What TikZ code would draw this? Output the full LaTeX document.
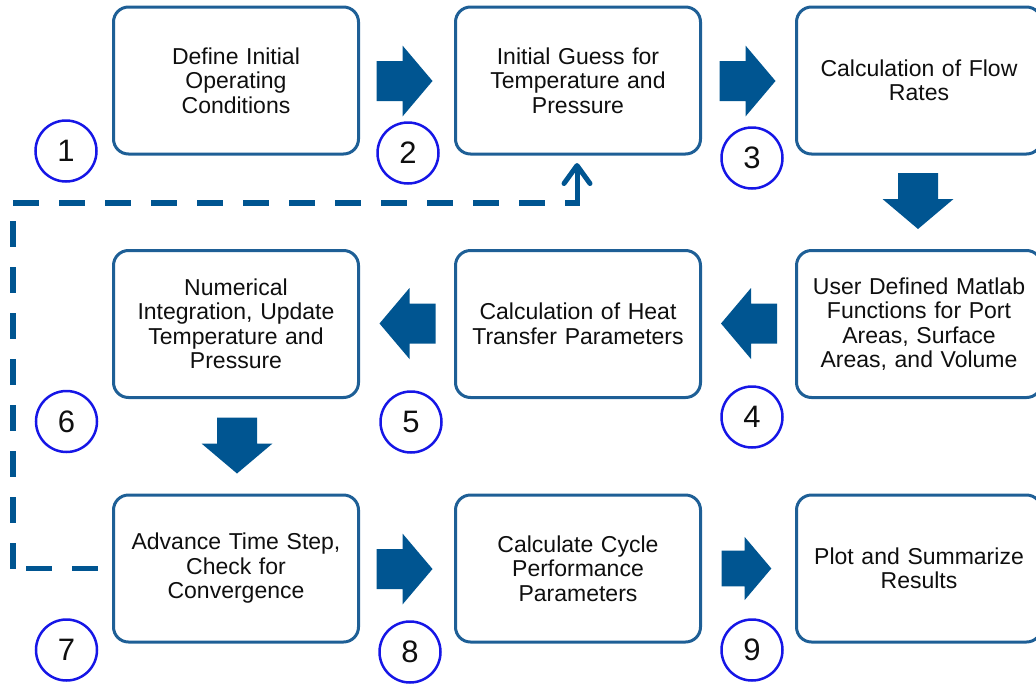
\documentclass[tikz,border=0pt]{standalone}
\usepackage{fontspec}
\setmainfont{Liberation Sans}
\usetikzlibrary{arrows.meta,calc}
\definecolor{boxblue}{RGB}{30,95,150}
\definecolor{arrowblue}{RGB}{0,85,145}
\definecolor{circblue}{RGB}{22,22,230}
\definecolor{txt}{RGB}{15,15,15}
\tikzset{
  stepbox/.style={draw=boxblue,line width=3pt,rounded corners=15pt,fill=white,
    minimum width=245pt,minimum height=147pt,outer sep=0pt,inner sep=0pt,
    text width=236pt,align=center,text=txt,
    font=\fontsize{23}{24.5}\selectfont},
  numcirc/.style={circle,draw=circblue,line width=2.5pt,minimum size=61pt,
    inner sep=0pt,text=txt,font=\fontsize{31}{31}\selectfont},
  barrow/.pic={
    \fill[arrowblue] (0,-20) -- (26,-20) -- (26,-35.5) -- (56,0) -- (26,35.5) -- (26,20) -- (0,20) -- cycle;
  },
  fbline/.style={draw=arrowblue,line width=5.5pt,dash pattern=on 26pt off 20pt},
}
\begin{document}
\begin{tikzpicture}[x=1pt,y=-1pt]
\useasboundingbox (0,0) rectangle (1036,683);
% boxes
\node[stepbox] (b1) at (236,80.5) {Define Initial\\Operating\\Conditions};
\node[stepbox] (b2) at (578,80.5) {Initial Guess for\\Temperature and\\Pressure};
\node[stepbox] (b3) at (919,80.5) {Calculation of Flow\\Rates};
\node[stepbox] (b4) at (919,324) {User Defined Matlab\\Functions for Port\\Areas, Surface\\Areas, and Volume};
\node[stepbox] (b5) at (578,324) {Calculation of Heat\\Transfer Parameters};
\node[stepbox] (b6) at (236,324) {Numerical\\Integration, Update\\Temperature and\\Pressure};
\node[stepbox] (b7) at (236,568.5) {Advance Time Step,\\Check for\\Convergence};
\node[stepbox] (b8) at (578,568.5) {Calculate Cycle\\Performance\\Parameters};
\node[stepbox] (b9) at (919,568.5) {Plot and Summarize\\Results};
% numbers
\node[numcirc] (n1) at (66,151) {1};
\node[numcirc] (n2) at (408,153) {2};
\node[numcirc] (n3) at (752,158) {3};
\node[numcirc] (n4) at (752,417) {4};
\node[numcirc] (n5) at (411,422) {5};
\node[numcirc] (n6) at (66.5,421.5) {6};
\node[numcirc] (n7) at (66.5,650) {7};
\node[numcirc] (n8) at (410,652) {8};
\node[numcirc] (n9) at (752,650) {9};
% block arrows
\pic at ($(b1.east)+(18,0.5)$) {barrow};
\pic at ($(b2.east)+(19,0.5)$) {barrow};
\pic[rotate=-90] at ($(b3.south)+(-1,19)$) {barrow};
\pic[rotate=180] at ($(b4.west)+(-19.5,-0.5)$) {barrow};
\pic[rotate=180] at ($(b5.west)+(-20,-0.5)$) {barrow};
\pic[rotate=-90] at ($(b6.south)+(1,20)$) {barrow};
\pic at ($(b7.east)+(18,0.5)$) {barrow};
\pic[scale=0.89] at ($(b8.east)+(21,0)$) {barrow};
% feedback loop
\coordinate (fs) at ($(b7.west)+(-16,0)$);
\coordinate (fc1) at (13,568.5);
\coordinate (fc2) at (13,203);
\coordinate (fc3) at (577,203);
\draw[fbline] (fs) -- (fc1);
\draw[fbline] (fc1) -- (fc2);
\draw[fbline] (fc2) -- (fc3);
\draw[draw=arrowblue,line width=5pt,line cap=butt,-{Straight Barb[length=18pt,width=26pt,line cap=round,line join=round]}] ($(fc3)+(0,2.75)$) -- ($(b2.south -| fc3)+(0,9)$);
\end{tikzpicture}
\end{document}
